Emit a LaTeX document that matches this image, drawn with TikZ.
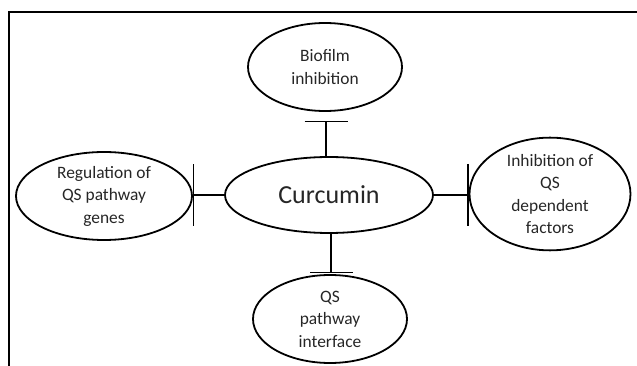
\documentclass[tikz,border=0pt]{standalone}
\usepackage{fontspec}
\setmainfont{Carlito}
\usetikzlibrary{shapes.geometric,arrows.meta}
\tikzset{
  blob/.style={draw, ellipse, line width=1.8pt, inner sep=0pt, align=center,
    text=black!85, font=\fontsize{17.4}{22.5}\selectfont},
  inhib/.style={line width=1.2pt},
}
\begin{document}
\begin{tikzpicture}[x=1pt, y=-1pt]
        \useasboundingbox (0, 0) rectangle (637, 366);
        % frame (top and left only)
        \draw[line width=2.2pt] (637, 12) -- (9, 12) -- (9, 366);
        \node[blob, minimum width=208, minimum height=76,
              font=\fontsize{26}{30}\selectfont] (cur) at (329, 195) {Curcumin};
        \node[blob, minimum width=154, minimum height=88] (bio) at (325, 67) {Biofilm\\inhibition};
        \node[blob, minimum width=176, minimum height=88] (reg) at (104, 196) {Regulation of\\QS pathway\\genes};
        \node[blob, minimum width=161, minimum height=108] (inh) at (550, 194) {Inhibition of\\QS\\dependent\\factors};
        \node[blob, minimum width=154, minimum height=88] (qsp) at (330, 319) {QS\\pathway\\interface};
        \coordinate (bioT) at (326, 121);
        \coordinate (qspT) at (331, 273);
        \draw[inhib, -{Bar[width=43pt]}] (cur.north -| bioT) -- (bioT);
        \draw[inhib, -{Bar[width=43pt]}] (cur.south -| qspT) -- (qspT);
        \draw[inhib, -{Bar[width=62pt]}] (cur.west) -- (cur.west -| reg.east);
        \draw[inhib, -{Bar[width=62pt]}] (cur.east) -- (cur.east -| inh.west);
\end{tikzpicture}
\end{document}
